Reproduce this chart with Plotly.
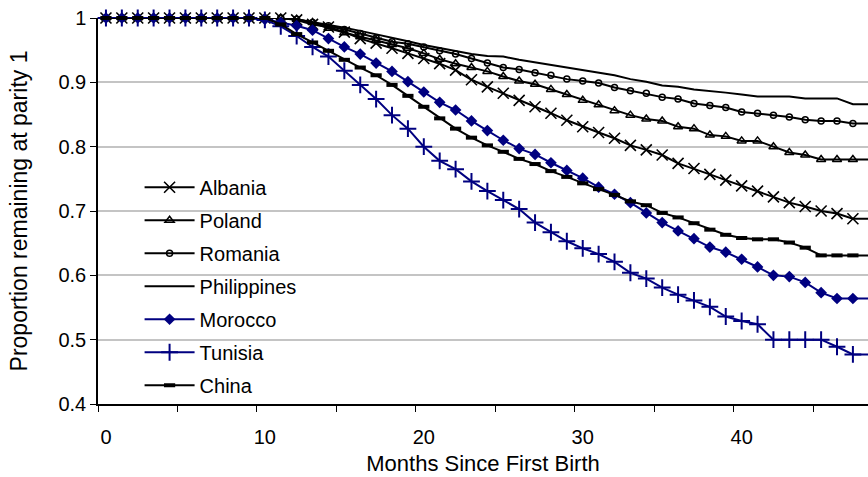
import plotly.graph_objects as go

months = list(range(0, 49))

albania = [1, 1, 1, 1, 1, 1, 1, 1, 1, 1, 1, 1,
           0.997, 0.990, 0.986, 0.978, 0.968, 0.961, 0.953, 0.945, 0.937, 0.929,
           0.919, 0.904, 0.893, 0.883, 0.872, 0.862, 0.852, 0.841, 0.831, 0.822,
           0.813, 0.802, 0.795, 0.787, 0.774, 0.766, 0.757, 0.748, 0.739, 0.731,
           0.722, 0.713, 0.707, 0.700, 0.696, 0.688, 0.688]
poland = [1, 1, 1, 1, 1, 1, 1, 1, 1, 1, 1, 1,
          0.998, 0.993, 0.984, 0.977, 0.971, 0.965, 0.959, 0.953, 0.945, 0.936,
          0.929, 0.923, 0.917, 0.909, 0.902, 0.897, 0.889, 0.881, 0.872, 0.865,
          0.856, 0.849, 0.843, 0.840, 0.831, 0.828, 0.818, 0.816, 0.809, 0.809,
          0.800, 0.791, 0.787, 0.780, 0.780, 0.780, 0.780]
romania = [1, 1, 1, 1, 1, 1, 1, 1, 1, 1, 1, 1,
           0.998, 0.993, 0.988, 0.982, 0.976, 0.969, 0.963, 0.960, 0.955, 0.949,
           0.944, 0.937, 0.930, 0.923, 0.920, 0.915, 0.911, 0.905, 0.902, 0.899,
           0.892, 0.887, 0.883, 0.877, 0.874, 0.867, 0.864, 0.861, 0.854, 0.852,
           0.849, 0.846, 0.842, 0.840, 0.840, 0.836, 0.836]
philippines = [1, 1, 1, 1, 1, 1, 1, 1, 1, 1, 1, 1,
               0.998, 0.994, 0.989, 0.985, 0.980, 0.975, 0.969, 0.964, 0.958, 0.953,
               0.948, 0.944, 0.941, 0.940, 0.935, 0.931, 0.927, 0.924, 0.919, 0.916,
               0.911, 0.905, 0.901, 0.895, 0.893, 0.889, 0.887, 0.884, 0.881, 0.878,
               0.878, 0.878, 0.875, 0.875, 0.875, 0.866, 0.866]
morocco = [1, 1, 1, 1, 1, 1, 1, 1, 1, 1, 0.998,
           0.993, 0.988, 0.981, 0.968, 0.955, 0.944, 0.930, 0.917, 0.901, 0.885,
           0.869, 0.857, 0.840, 0.825, 0.810, 0.797, 0.788, 0.775, 0.763, 0.751,
           0.737, 0.726, 0.713, 0.697, 0.682, 0.669, 0.657, 0.644, 0.636, 0.625,
           0.613, 0.600, 0.598, 0.589, 0.573, 0.564, 0.564, 0.564]
tunisia = [1, 1, 1, 1, 1, 1, 1, 1, 1, 1, 0.997,
           0.987, 0.972, 0.955, 0.940, 0.918, 0.896, 0.874, 0.849, 0.828, 0.800,
           0.778, 0.765, 0.746, 0.731, 0.717, 0.703, 0.682, 0.667, 0.653, 0.642,
           0.633, 0.621, 0.604, 0.595, 0.581, 0.570, 0.561, 0.551, 0.536, 0.529,
           0.524, 0.500, 0.500, 0.500, 0.500, 0.489, 0.477, 0.477]
china = [1, 1, 1, 1, 1, 1, 1, 1, 1, 1, 1,
         0.990, 0.975, 0.962, 0.949, 0.935, 0.923, 0.911, 0.896, 0.879, 0.862,
         0.844, 0.828, 0.814, 0.802, 0.792, 0.781, 0.773, 0.762, 0.753, 0.743,
         0.734, 0.725, 0.715, 0.709, 0.697, 0.690, 0.681, 0.671, 0.663, 0.658,
         0.656, 0.656, 0.651, 0.643, 0.631, 0.631, 0.631, 0.631]

x_tick_vals = [0, 10, 20, 30, 40]
x_tick_text = ["0", "10", "20", "30", "40"]
y_tick_vals = [0.4, 0.5, 0.6, 0.7, 0.8, 0.9, 1.0]
y_tick_text = ["0.4", "0.5", "0.6", "0.7", "0.8", "0.9", "1"]

BLACK = "#000000"
NAVY = "#000080"
FONT = "Liberation Sans, Arial, sans-serif"

series = [
    ("Albania", albania, BLACK, dict(symbol="x-thin-open", size=11, line=dict(width=1.6, color=BLACK))),
    ("Poland", poland, BLACK, dict(symbol="triangle-up-open", size=8, line=dict(width=1.5, color=BLACK))),
    ("Romania", romania, BLACK, dict(symbol="circle-open", size=6, line=dict(width=1.5, color=BLACK))),
    ("Philippines", philippines, BLACK, None),
    ("Morocco", morocco, NAVY, dict(symbol="diamond", size=9, color=NAVY, line=dict(width=0))),
    ("Tunisia", tunisia, NAVY, dict(symbol="cross-thin-open", size=12, line=dict(width=2, color=NAVY))),
    ("China", china, BLACK, dict(symbol="line-ew-open", size=8, line=dict(width=4, color=BLACK))),
]

fig = go.Figure()
for name, vals, col, mk in series:
    fig.add_trace(go.Scatter(
        x=months, y=vals, name=name, legendgroup=name,
        mode="lines+markers" if mk else "lines",
        line=dict(color=col, width=2),
        marker=mk if mk else None,
        cliponaxis=False,
    ))

# white legend background covering the gridlines (drawn between grid and traces)
fig.add_shape(type="rect", xref="paper", yref="paper",
              x0=0.0117, x1=0.3013, y0=0.008, y1=0.671,
              fillcolor="white", line=dict(width=0), layer="between")

fig.update_layout(
    width=868, height=477,
    margin=dict(l=98, r=0, t=18, b=73),
    paper_bgcolor="white", plot_bgcolor="white",
    font=dict(family=FONT, size=20, color=BLACK),
    showlegend=True,
    legend=dict(x=0.054, y=0.612, xanchor="left", yanchor="top",
                bgcolor="rgba(0,0,0,0)", font=dict(size=20, family=FONT),
                tracegroupgap=4, itemwidth=50, traceorder="grouped",
                borderwidth=0),
    xaxis=dict(
        range=[-0.5, 47.95],
        tickmode="array", tickvals=x_tick_vals, ticktext=x_tick_text,
        ticks="", showgrid=False, zeroline=False,
        showline=True, linecolor=BLACK, linewidth=1.5,
        ticklabelstandoff=14,
        tickfont=dict(size=20, family=FONT, color=BLACK),
        minor=dict(tickmode="linear", tick0=-0.5, dtick=5, ticks="outside",
                   ticklen=6, tickcolor=BLACK, tickwidth=1.2, showgrid=False),
        title=dict(text="Months Since First Birth", font=dict(size=22, family=FONT), standoff=9),
    ),
    yaxis=dict(
        range=[0.4, 1.0],
        tickmode="array", tickvals=y_tick_vals, ticktext=y_tick_text,
        ticks="outside", ticklen=6, tickcolor=BLACK, tickwidth=1.2,
        showgrid=True, gridcolor="#c4c4c4", gridwidth=1.5, zeroline=False,
        showline=True, linecolor=BLACK, linewidth=1.5,
        tickfont=dict(size=20, family=FONT, color=BLACK),
        title=dict(text="Proportion remaining at parity 1", font=dict(size=23, family=FONT), standoff=24),
    ),
)

fig.write_html("out.html")
